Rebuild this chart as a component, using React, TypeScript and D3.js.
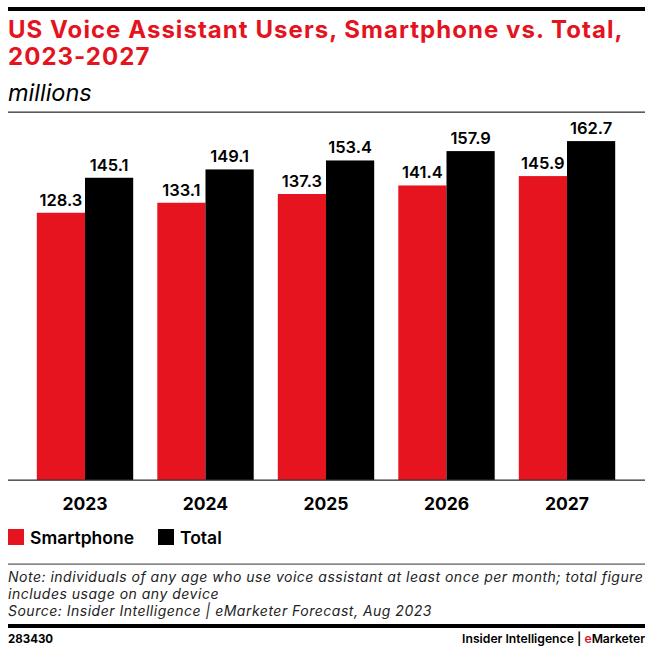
import React from "react";
import * as d3 from "d3";

const years = ["2023", "2024", "2025", "2026", "2027"];
const smartphone = [128.3, 133.1, 137.3, 141.4, 145.9];
const total = [145.1, 149.1, 153.4, 157.9, 162.7];
const seriesNames = ["Smartphone", "Total"];
const seriesColors = ["#e5141f", "#000000"];
const noteLines = [
  "Note: individuals of any age who use voice assistant at least once per month; total figure",
  "includes usage on any device",
  "Source: Insider Intelligence | eMarketer Forecast, Aug 2023",
];

const W = 653;
const H = 650;
const FONT = "Inter, 'Noto Sans', sans-serif";

export default function App() {
  const baseY = 480;
  const x0 = d3
    .scaleBand<string>()
    .domain(years)
    .range([24.75, 627.25])
    .paddingInner(0.2)
    .paddingOuter(0.1);
  const x1 = d3
    .scaleBand<string>()
    .domain(seriesNames)
    .range([0, x0.bandwidth()]);
  const y = d3.scaleLinear().domain([0, 175]).range([baseY, baseY - 175 * 2.083]);
  const fmt = d3.format(".1f");
  const series = [smartphone, total];

  return (
    <svg width={W} height={H} style={{ display: "block", position: "absolute", left: 0, top: 0 }}>
      <rect x={0} y={0} width={W} height={H} fill="#fff" />
      <rect x={8} y={7} width={637} height={4} fill="#000" />
      <text x={8} y={38} fontFamily={FONT} fontWeight={700} fontSize={24} fill="#e4141f" letterSpacing={1.05}>
        US Voice Assistant Users, Smartphone vs. Total,
      </text>
      <text x={8} y={65} fontFamily={FONT} fontWeight={700} fontSize={24} fill="#e4141f" letterSpacing={1.05}>
        2023-2027
      </text>
      <text x={8} y={100.5} fontFamily={FONT} fontStyle="italic" fontSize={23.5} fill="#000">
        millions
      </text>
      <rect x={8} y={111.5} width={637} height={1.3} fill="#333" />

      {years.map((yr, i) => (
        <g key={yr} transform={`translate(${x0(yr)},0)`}>
          {series.map((s, j) => {
            const name = seriesNames[j];
            const bx = x1(name)!;
            const bw = x1.bandwidth();
            return (
              <g key={name}>
                <rect x={bx} y={y(s[i])} width={bw} height={baseY - y(s[i])} fill={seriesColors[j]} />
                <text
                  x={bx + bw / 2}
                  y={y(s[i]) - 7}
                  textAnchor="middle"
                  fontFamily={FONT}
                  fontWeight={600}
                  fontSize={16.5}
                  fill="#000"
                >
                  {fmt(s[i])}
                </text>
              </g>
            );
          })}
          <text
            x={x0.bandwidth() / 2}
            y={510}
            textAnchor="middle"
            fontFamily={FONT}
            fontWeight={700}
            fontSize={17.5}
            fill="#000"
          >
            {yr}
          </text>
        </g>
      ))}
      <rect x={8} y={479.5} width={637} height={1.3} fill="#333" />

      {/* legend */}
      <rect x={8} y={529} width={16} height={16} fill={seriesColors[0]} />
      <text x={30} y={544} fontFamily={FONT} fontWeight={600} fontSize={17.5} fill="#000">
        {seriesNames[0]}
      </text>
      <rect x={158} y={529} width={16} height={16} fill={seriesColors[1]} />
      <text x={180} y={544} fontFamily={FONT} fontWeight={600} fontSize={17.5} fill="#000">
        {seriesNames[1]}
      </text>

      <rect x={8} y={563.5} width={637} height={1.2} fill="#555" />
      {noteLines.map((t, i) => (
        <text key={i} x={8} y={582 + i * 17} fontFamily={FONT} fontStyle="italic" fontSize={14} fill="#222" letterSpacing={0.5}>
          {t}
        </text>
      ))}
      <rect x={8} y={624} width={637} height={4} fill="#000" />
      <text x={8} y={643} fontFamily={FONT} fontWeight={700} fontSize={11.5} fill="#000">
        283430
      </text>
      <text x={645} y={643} textAnchor="end" fontFamily={FONT} fontWeight={600} fontSize={12.2} fill="#000">
        Insider Intelligence | <tspan fill="#e4141f">e</tspan>Marketer
      </text>
    </svg>
  );
}
